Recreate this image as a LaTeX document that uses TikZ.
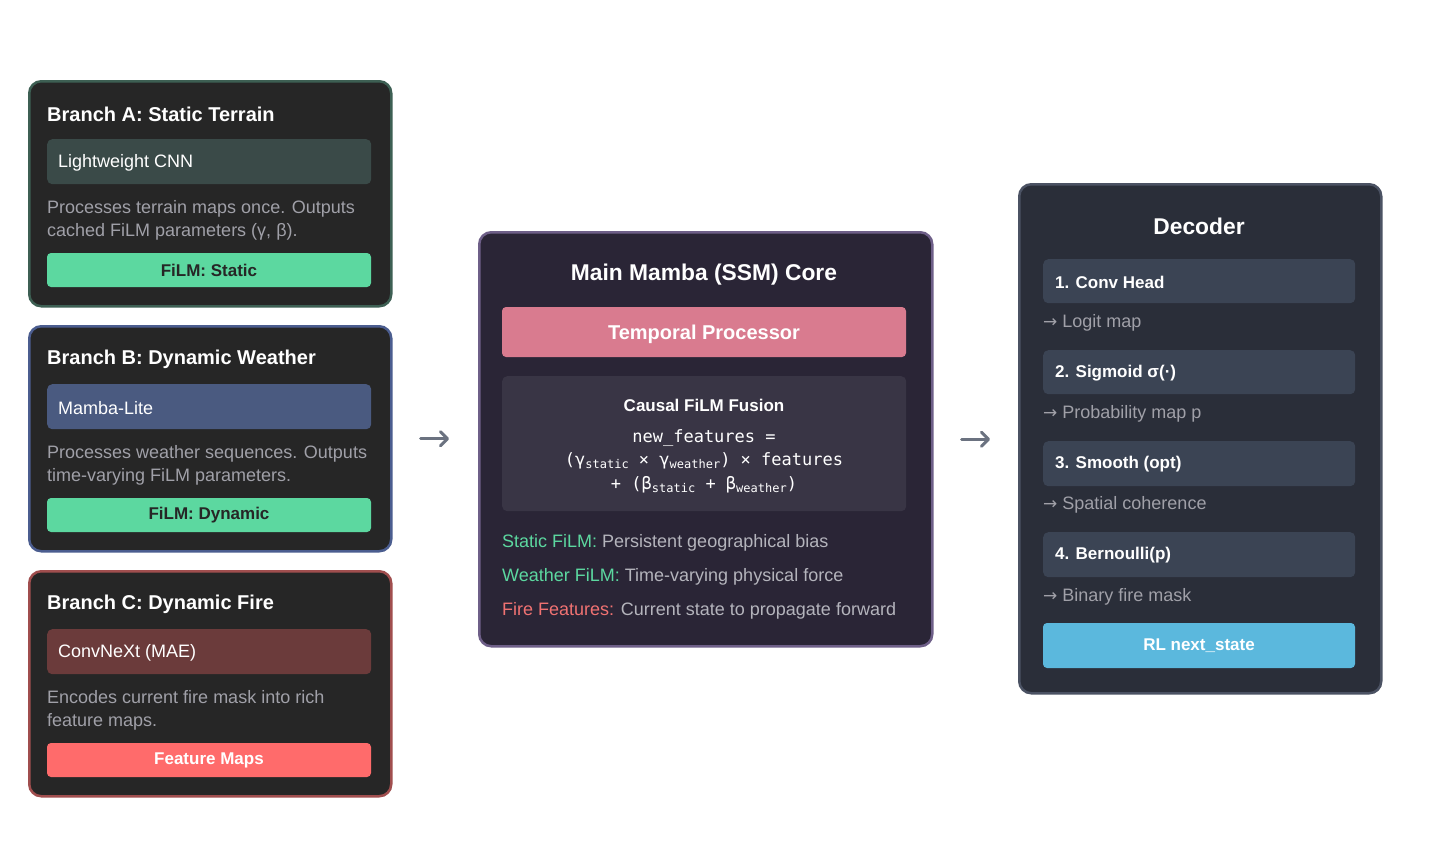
\documentclass[tikz,border=0pt]{standalone}
\usepackage{fontspec}
\setmainfont{Liberation Sans}
\setmonofont{DejaVu Sans Mono}
\newfontfamily\arrowfont{DejaVu Sans}
\usetikzlibrary{arrows.meta}

\definecolor{panelbg}{HTML}{262626}
\definecolor{bordA}{HTML}{3D5F53}
\definecolor{bordB}{HTML}{4B5D8F}
\definecolor{bordC}{HTML}{A04E4E}
\definecolor{cnnbg}{HTML}{3A4A48}
\definecolor{mambabg}{HTML}{4A5A80}
\definecolor{convbg}{HTML}{6B3B3B}
\definecolor{filmgreen}{HTML}{5CD8A0}
\definecolor{firered}{HTML}{FF6B6B}
\definecolor{descgray}{HTML}{A0A0A8}
\definecolor{corebg}{HTML}{2A2536}
\definecolor{corebd}{HTML}{6E5F88}
\definecolor{temporal}{HTML}{D97B8F}
\definecolor{fusionbg}{HTML}{393545}
\definecolor{legendgray}{HTML}{B4B4BC}
\definecolor{legendred}{HTML}{F07272}
\definecolor{decbg}{HTML}{2A2E39}
\definecolor{decbd}{HTML}{4B5263}
\definecolor{stepbg}{HTML}{3B4454}
\definecolor{rlblue}{HTML}{5BB8DD}
\definecolor{arrowgray}{HTML}{6B7280}

\newcommand\fsz[1]{\fontsize{#1}{#1}\selectfont}
\newcommand\fsub[1]{\raisebox{-3pt}{\fsz{12}#1}}
\newcommand\toarrow{{\arrowfont\fsz{17}→}}

\begin{document}
\begin{tikzpicture}[x=1pt,y=-1pt,
    panel/.style={draw,line width=2.5pt,rounded corners=12pt,inner sep=0pt,anchor=north west},
    inbox/.style={rounded corners=5pt,inner sep=0pt,anchor=north west,minimum width=324,minimum height=45},
    btn/.style={rounded corners=4pt,inner sep=0pt,minimum width=324,minimum height=34,font=\fsz{17}\bfseries},
    title/.style={anchor=west,inner sep=0pt,text=white,font=\fsz{20}\bfseries},
    head/.style={inner sep=0pt,text=white,font=\fsz{22.8}\bfseries},
    label/.style={anchor=west,inner sep=0pt,text=white,font=\fsz{18}},
    desc/.style={anchor=west,inner sep=0pt,align=left,text=descgray,font=\fontsize{18}{23}\selectfont},
    formula/.style={inner sep=0pt,text=white,font=\fsz{17}\ttfamily},
    flow/.style={draw=arrowgray,line width=3pt,line cap=round,
      -{Straight Barb[length=7pt,width=14pt,line cap=round,line join=round]}}]

  \fill[white] (0,0) rectangle (1440,862);
  \useasboundingbox (0,0) rectangle (1440,862);

  % branch A
  \node[panel,draw=bordA,fill=panelbg,minimum width=362,minimum height=225] (brA) at (28,80) {};
  \node[title] (brAtitle) at (47,114) {Branch A: Static Terrain};
  \node[inbox,fill=cnnbg] (cnn) at (47,139) {};
  \node[label] (cnnlab) at (58,163) {Lightweight CNN};
  \node[desc] (brAdesc) at (47,220.5) {Processes terrain maps once. Outputs\\cached FiLM parameters (γ, β).};
  \node[btn,fill=filmgreen,text=panelbg] (filmA) at (209,270) {FiLM: Static};

  % branch B
  \node[panel,draw=bordB,fill=panelbg,minimum width=362,minimum height=225] (brB) at (28,325) {};
  \node[title] (brBtitle) at (47,359) {Branch B: Dynamic Weather};
  \node[inbox,fill=mambabg] (mamba) at (47,384) {};
  \node[label] (mambalab) at (58,408) {Mamba-Lite};
  \node[desc] (brBdesc) at (47,465.5) {Processes weather sequences. Outputs\\time-varying FiLM parameters.};
  \node[btn,fill=filmgreen,text=panelbg] (filmB) at (209,515) {FiLM: Dynamic};

  % branch C
  \node[panel,draw=bordC,fill=panelbg,minimum width=362,minimum height=225] (brC) at (28,570) {};
  \node[title] (brCtitle) at (47,604) {Branch C: Dynamic Fire};
  \node[inbox,fill=convbg] (conv) at (47,629) {};
  \node[label] (convlab) at (58,653) {ConvNeXt (MAE)};
  \node[desc] (brCdesc) at (47,710.5) {Encodes current fire mask into rich\\feature maps.};
  \node[btn,fill=firered,text=white] (featmaps) at (209,760) {Feature Maps};

  % core
  \node[panel,draw=corebd,fill=corebg,minimum width=453,minimum height=414] (core) at (478,231) {};
  \node[head] (coretitle) at (704,275) {Main Mamba (SSM) Core};
  \node[btn,fill=temporal,text=white,minimum width=404,minimum height=50,font=\fsz{20}\bfseries] (temp) at (704,332) {};
  \node[inner sep=0pt,text=white,font=\fsz{20}\bfseries] (templab) at (704,334) {Temporal Processor};
  \node[inbox,fill=fusionbg,minimum width=404,minimum height=135] (fusion) at (502,376) {};
  \node[inner sep=0pt,text=white,font=\fsz{17}\bfseries] (fusiontitle) at (704,405) {Causal FiLM Fusion};
  \node[formula] (eq1) at (704,438) {new\_features =};
  \node[formula] (eq2) at (704,461) {(γ\fsub{static} × γ\fsub{weather}) × features};
  \node[formula] (eq3) at (704,485) {+ (β\fsub{static} + β\fsub{weather})};
  \node[label,text=legendgray] (leg1) at (502,543) {\textcolor{filmgreen}{Static FiLM:} Persistent geographical bias};
  \node[label,text=legendgray] (leg2) at (502,577) {\textcolor{filmgreen}{Weather FiLM:} Time-varying physical force};
  \node[label,text=legendgray] (leg3) at (502,611) {\textcolor{legendred}{Fire Features:} Current state to propagate forward};

  % decoder
  \node[panel,draw=decbd,fill=decbg,minimum width=362,minimum height=509] (dec) at (1018,183) {};
  \node[head] (dectitle) at (1199,226) {Decoder};
  \node[inbox,fill=stepbg,minimum width=312,minimum height=44] (s1) at (1043,259) {};
  \node[label,font=\fsz{17}\bfseries] (s1lab) at (1055,282) {1. Conv Head};
  \node[label,text=descgray] (s1out) at (1043,322.5) {\toarrow\ Logit map};
  \node[inbox,fill=stepbg,minimum width=312,minimum height=44] (s2) at (1043,350) {};
  \node[label,font=\fsz{17}\bfseries] (s2lab) at (1055,373) {2. Sigmoid σ(·)};
  \node[label,text=descgray] (s2out) at (1043,413.5) {\toarrow\ Probability map p};
  \node[inbox,fill=stepbg,minimum width=312,minimum height=45] (s3) at (1043,441) {};
  \node[label,font=\fsz{17}\bfseries] (s3lab) at (1055,464.5) {3. Smooth (opt)};
  \node[label,text=descgray] (s3out) at (1043,504.5) {\toarrow\ Spatial coherence};
  \node[inbox,fill=stepbg,minimum width=312,minimum height=45] (s4) at (1043,532) {};
  \node[label,font=\fsz{17}\bfseries] (s4lab) at (1055,555.5) {4. Bernoulli(p)};
  \node[label,text=descgray] (s4out) at (1043,596.5) {\toarrow\ Binary fire mask};
  \node[btn,fill=rlblue,text=white,minimum width=312,minimum height=45] (rl) at (1199,645.5) {RL next\_state};

  % arrows
  \draw[flow,shorten <=28pt,shorten >=29pt] (brB.east) -- (core.west |- brB.east);
  \draw[flow,shorten <=28pt,shorten >=28pt] (core.east) -- (dec.west |- core.east);

\end{tikzpicture}
\end{document}
